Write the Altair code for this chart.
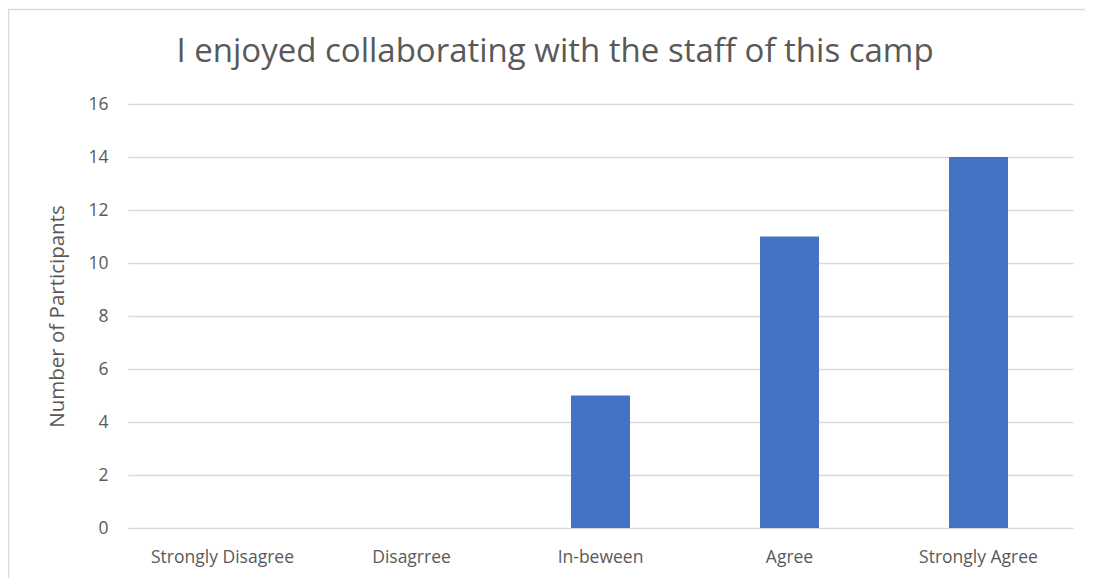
import altair as alt
import pandas as pd

categories = ["Strongly Disagree", "Disagrree", "In-beween", "Agree", "Strongly Agree"]
counts = [0, 0, 5, 11, 14]
y_ticks = [0, 2, 4, 6, 8, 10, 12, 14, 16]
title_text = ["I enjoyed collaborating with the staff of this camp"]

df = pd.DataFrame({"Response": categories, "Participants": counts})
tdf = pd.DataFrame({"t": title_text})

FONT = "Open Sans"
GREY = "#595959"

bars = alt.Chart(df).mark_bar(color="#4472C4").encode(
    x=alt.X(
        "Response:N",
        sort=categories,
        scale=alt.Scale(paddingInner=0.688, paddingOuter=0.344),
        axis=alt.Axis(
            title=None, labelAngle=0, ticks=False, domain=False,
            labelFontSize=17.5, labelColor=GREY, labelFont=FONT, labelPadding=20,
        ),
    ),
    y=alt.Y(
        "Participants:Q",
        scale=alt.Scale(domain=[0, 16], nice=False),
        axis=alt.Axis(
            title="Number of Participants", values=y_ticks, ticks=False, domain=False,
            labelFontSize=17.5, labelColor=GREY, labelFont=FONT, labelPadding=20,
            titleFontSize=20.5, titleColor=GREY, titleFont=FONT, titleFontWeight="normal",
            titlePadding=20, gridColor="#d9d9d9", gridWidth=1.3,
        ),
    ),
)

border = alt.Chart(df).mark_rect(
    fill=None, stroke="#d9d9d9", strokeWidth=1.5, clip=False
).encode(
    x=alt.value(-119.5), x2=alt.value(1100), y=alt.value(-94.5), y2=alt.value(600)
).transform_filter(alt.datum.Response == categories[0])

title = alt.Chart(tdf).mark_text(
    fontSize=33, font=FONT, color=GREY, align="center", baseline="alphabetic", clip=False
).encode(
    text="t:N", x=alt.value(427), y=alt.value(-42)
)

chart = alt.layer(border, bars, title).properties(
    width=945,
    height=424,
    padding={"left": 120, "top": 96, "right": 12, "bottom": 50},
    autosize=alt.AutoSizeParams(type="none"),
).configure_view(stroke=None)

chart.save("out.html", embed_options={"renderer": "svg", "actions": False})
